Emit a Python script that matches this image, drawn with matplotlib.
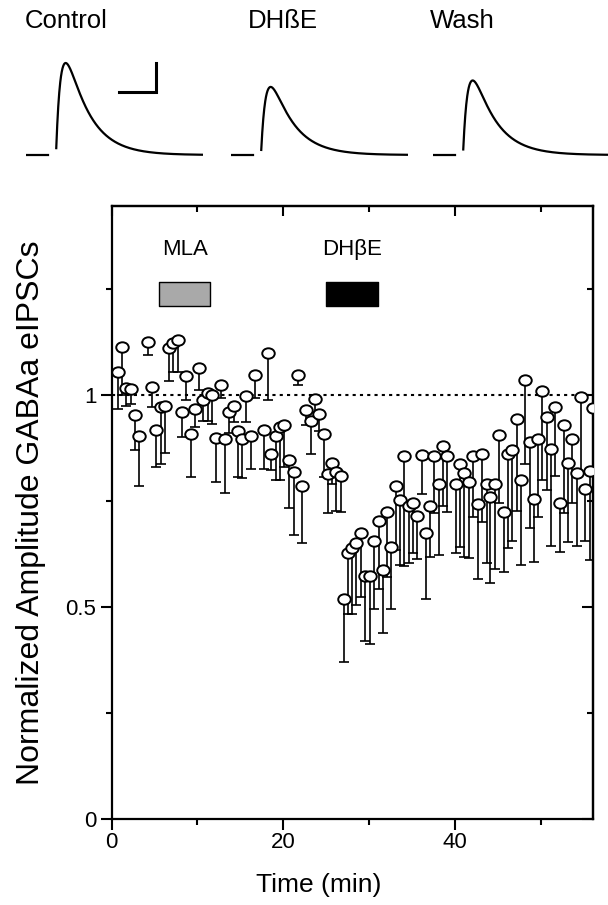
import numpy as np
import matplotlib
matplotlib.use('Agg')
import matplotlib.pyplot as plt
from matplotlib.path import Path
from matplotlib.transforms import Affine2D

plt.rcParams['font.family'] = ['Liberation Sans', 'DejaVu Sans']

# time of each sample (min)
time_min = [0.7, 1.2, 1.7, 2.2, 2.7, 3.2, 4.2, 4.7, 5.2, 5.7, 6.2, 6.7, 7.2, 7.7, 8.2, 8.7,
            9.2, 9.7, 10.2, 10.7, 11.2, 11.7, 12.2, 12.7, 13.2, 13.7, 14.2, 14.7, 15.2, 15.7,
            16.2, 16.7, 17.7, 18.2, 18.6, 19.1, 19.6, 20.1, 20.7, 21.2, 21.7, 22.2, 22.7, 23.2,
            23.7, 24.2, 24.7, 25.2, 25.7, 26.2, 26.7, 27.1, 27.6, 28.0, 28.5, 29.1, 29.5, 30.1,
            30.6, 31.1, 31.6, 32.1, 32.6, 33.1, 33.6, 34.1, 34.6, 35.1, 35.6, 36.2, 36.6, 37.1,
            37.6, 38.1, 38.6, 39.1, 40.1, 40.6, 41.1, 41.6, 42.1, 42.7, 43.2, 43.7, 44.1, 44.7,
            45.2, 45.7, 46.2, 46.7, 47.2, 47.7, 48.2, 48.7, 49.2, 49.7, 50.2, 50.7, 51.2, 51.7,
            52.2, 52.7, 53.2, 53.7, 54.2, 54.7, 55.2, 55.7, 56.1]

# normalized mean amplitude
amp_mean = [1.054, 1.113, 1.017, 1.014, 0.953, 0.903, 1.125, 1.020, 0.919, 0.972, 0.974, 1.111,
            1.123, 1.130, 0.960, 1.045, 0.908, 0.968, 1.065, 0.988, 1.006, 1.001, 0.900, 1.025,
            0.896, 0.960, 0.976, 0.917, 0.897, 0.998, 0.904, 1.047, 0.919, 1.099, 0.861, 0.904,
            0.926, 0.931, 0.848, 0.820, 1.049, 0.787, 0.966, 0.939, 0.992, 0.955, 0.908, 0.815,
            0.841, 0.819, 0.809, 0.519, 0.628, 0.640, 0.651, 0.674, 0.574, 0.574, 0.656, 0.704,
            0.588, 0.724, 0.641, 0.787, 0.754, 0.857, 0.738, 0.747, 0.716, 0.860, 0.675, 0.738,
            0.857, 0.791, 0.880, 0.857, 0.791, 0.838, 0.816, 0.796, 0.858, 0.744, 0.862, 0.791,
            0.760, 0.791, 0.906, 0.724, 0.862, 0.872, 0.944, 0.801, 1.037, 0.890, 0.755, 0.898,
            1.011, 0.949, 0.874, 0.972, 0.746, 0.931, 0.841, 0.898, 0.817, 0.995, 0.779, 0.821,
            0.970]

# lower end of the error bar
amp_low = [0.968, 1.000, 0.976, 0.980, 0.870, 0.786, 1.096, 0.972, 0.832, 0.837, 0.864, 1.035,
           1.055, 1.055, 0.901, 0.990, 0.807, 0.925, 1.012, 0.939, 0.940, 0.933, 0.795, 0.993,
           0.769, 0.910, 0.937, 0.808, 0.805, 0.937, 0.827, 0.994, 0.827, 0.990, 0.824, 0.800,
           0.800, 0.830, 0.733, 0.671, 1.024, 0.651, 0.929, 0.862, 0.961, 0.917, 0.808, 0.722,
           0.790, 0.726, 0.724, 0.370, 0.484, 0.484, 0.506, 0.523, 0.421, 0.413, 0.496, 0.543,
           0.440, 0.572, 0.496, 0.634, 0.600, 0.598, 0.604, 0.627, 0.614, 0.768, 0.519, 0.618,
           0.722, 0.622, 0.738, 0.724, 0.628, 0.641, 0.619, 0.615, 0.714, 0.567, 0.700, 0.604,
           0.557, 0.590, 0.745, 0.584, 0.640, 0.656, 0.726, 0.600, 0.839, 0.686, 0.606, 0.712,
           0.800, 0.777, 0.645, 0.809, 0.630, 0.722, 0.653, 0.745, 0.645, 0.820, 0.656, 0.611,
           0.750]

# drug applications (min)
drug_names = ['MLA', 'DHβE']
drug_start = [5.5, 25.0]
drug_end = [11.5, 31.0]
drug_colors = ['#a9a9a9', 'black']

# example traces
trace_names = ['Control', 'DHßE', 'Wash']
trace_peaks = [1.0, 0.74, 0.81]

W, H = 608, 905
fig = plt.figure(figsize=(W / 100, H / 100), dpi=100)

# ---- example eIPSC traces ----
trace_left = [26, 231, 433]
title_left = [25, 248, 430]
t_ms = np.linspace(0, 70.8, 709)
tr, td, onset = 2.0, 9.0, 12.0
tp = np.log(td / tr) * tr * td / (td - tr)
norm = 1 / (np.exp(-tp / td) - np.exp(-tp / tr))
for i, name in enumerate(trace_names):
    tax = fig.add_axes([trace_left[i] / W, 1 - 170 / H, 177 / W, 130 / H])
    tt = t_ms - onset
    y = np.where(tt > 0, trace_peaks[i] * norm * (np.exp(-tt / td) - np.exp(-tt / tr)), 0.0)
    y[(t_ms > 8.8) & (t_ms < onset)] = np.nan
    tax.plot(t_ms, y, color='black', lw=1.6)
    tax.set_xlim(0, 70.8)
    tax.set_ylim(-0.163, 1.25)
    tax.axis('off')
    if i == 0:
        # scale bar
        tax.plot([37.2, 52.0, 52.0], [0.685, 0.685, 1.0], color='black', lw=2.2,
                 solid_joinstyle='miter')
    fig.text(title_left[i] / W, 1 - 21 / H, name, fontsize=18.5, va='center', ha='left')

# ---- time course ----
ax = fig.add_axes([111.7 / W, 1 - 819 / H, (593 - 111.7) / W, (819 - 206) / H])

t = np.array(time_min)
m = np.array(amp_mean)
err_low = m - np.array(amp_low)

ax.axhline(1.0, color='black', lw=1.5, linestyle=(0, (1.5, 2.0)), zorder=1)

ax.errorbar(t, m, yerr=[err_low, np.zeros_like(err_low)], fmt='none', ecolor='black',
            elinewidth=1.2, capsize=3.5, capthick=1.2, zorder=2)

ellipse = Path.unit_circle().transformed(Affine2D().scale(1.2, 1.0))
ax.plot(t, m, linestyle='none', marker=ellipse, markersize=9, markerfacecolor='white',
        markeredgecolor='black', markeredgewidth=1.4, zorder=3)

for name, s, e, c in zip(drug_names, drug_start, drug_end, drug_colors):
    ax.broken_barh([(s, e - s)], (1.212, 0.056), facecolors=c, edgecolor='black', lw=1.0)
    ax.text((s + e) / 2, 1.345, name, ha='center', va='center', fontsize=16)

ax.set_xlim(0, 56.1)
ax.set_ylim(0, 1.447)
ax.set_xticks([0, 20, 40])
ax.set_xticks([10, 30, 50], minor=True)
ax.set_yticks([0, 0.5, 1])
ax.set_yticklabels(['0', '0.5', '1'])
ax.set_yticks([0.25, 0.75, 1.25], minor=True)
ax.tick_params(which='both', direction='out', width=1.5, labelsize=16)
ax.tick_params(axis='x', pad=1)
ax.tick_params(axis='y', pad=3)
ax.tick_params(which='major', length=8)
ax.tick_params(which='minor', length=4)

top = ax.secondary_xaxis('top')
top.set_xticks([0, 20, 40])
top.set_xticks([10, 30, 50], minor=True)
top.tick_params(which='both', direction='in', width=1.5, labeltop=False)
top.tick_params(which='major', length=7)
top.tick_params(which='minor', length=4)
right = ax.secondary_yaxis('right')
right.set_yticks([0, 0.5, 1])
right.set_yticks([0.25, 0.75, 1.25], minor=True)
right.tick_params(which='both', direction='in', width=1.5, labelright=False)
right.tick_params(which='major', length=8)
right.tick_params(which='minor', length=4)

for sp in list(ax.spines.values()) + [top.spines['top'], right.spines['right']]:
    sp.set_linewidth(1.6)

ax.set_xlabel('Time (min)', fontsize=19)
ax.xaxis.set_label_coords(0.431, -0.088)
ax.set_ylabel('Normalized Amplitude GABAa eIPSCs', fontsize=23, labelpad=14)

fig.savefig('out.png', dpi=100)
